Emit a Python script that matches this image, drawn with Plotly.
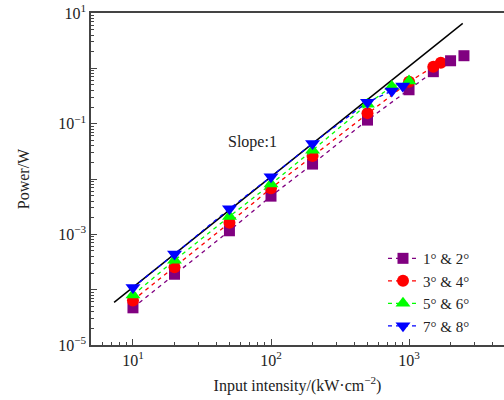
import math
import plotly.graph_objects as go

# ---- data ----
x_1_2 = [10, 20, 50, 100, 200, 500, 1000, 1500, 2000, 2500]
y_1_2 = [4.7e-5, 1.9e-4, 1.16e-3, 4.9e-3, 0.0186, 0.116, 0.41, 0.87, 1.37, 1.69]
n_line_1_2 = 8  # dashed line drawn through the first 8 points

x_3_4 = [10, 20, 50, 100, 200, 500, 1000, 1500, 1700]
y_3_4 = [6.4e-5, 2.55e-4, 1.62e-3, 6.8e-3, 0.026, 0.155, 0.57, 1.07, 1.26]

x_5_6 = [10, 20, 50, 100, 200, 500, 750, 1000]
y_5_6 = [8.0e-5, 3.4e-4, 2.1e-3, 8.1e-3, 0.033, 0.225, 0.47, 0.59]

x_7_8 = [10, 20, 50, 100, 200, 500, 750, 900]
y_7_8 = [1.1e-4, 4.4e-4, 2.9e-3, 0.011, 0.044, 0.245, 0.39, 0.48]

x_slope = [7.3, 2450]
y_slope = [5.9e-5, 6.5]

series_names = ["1° &amp; 2°", "3° &amp; 4°", "5° &amp; 6°", "7° &amp; 8°"]
x_tick_vals = [10, 100, 1000]
x_tick_text = ["10<sup>1</sup>", "10<sup>2</sup>", "10<sup>3</sup>"]
y_tick_vals = [1e-5, 1e-4, 1e-3, 1e-2, 1e-1, 1, 10]
y_tick_text = ["10<sup>−5</sup>", "", "10<sup>−3</sup>", "", "10<sup>−1</sup>", "", "10<sup>1</sup>"]

FONT = "Liberation Serif"
DASH = "4px,4px"

fig = go.Figure()

# slope reference line
fig.add_trace(go.Scatter(x=x_slope, y=y_slope, mode="lines",
                         line=dict(color="black", width=1.5), showlegend=False))

styles = [
    ("#800080", "square", 11),
    ("#ff0000", "circle", 12),
    ("#00ff00", "triangle-up", 13),
    ("#0000ff", "triangle-down", 13),
]
data = [(x_1_2[:n_line_1_2], y_1_2[:n_line_1_2]), (x_3_4, y_3_4), (x_5_6, y_5_6), (x_7_8, y_7_8)]

for (xs, ys), (col, sym, sz), name in zip(data, styles, series_names):
    fig.add_trace(go.Scatter(x=xs, y=ys, mode="lines+markers", name=name,
                             line=dict(color=col, width=1.3, dash=DASH),
                             marker=dict(color=col, symbol=sym, size=sz)))

# extra purple points without connecting line
fig.add_trace(go.Scatter(x=x_1_2[n_line_1_2:], y=y_1_2[n_line_1_2:], mode="markers",
                         marker=dict(color=styles[0][0], symbol="square", size=11),
                         showlegend=False))

# minor tick positions
x_minor = [m * 10 ** d for d in range(0, 4) for m in range(2, 10)]
y_minor = [m * 10 ** d for d in range(-5, 1) for m in range(2, 10)]

fig.add_annotation(x=math.log10(74), y=math.log10(0.047), text="Slope:1", showarrow=False,
                   font=dict(family=FONT, size=16, color="#222"))

fig.update_layout(
    width=504, height=400,
    margin=dict(l=91, r=0, t=13, b=55),
    paper_bgcolor="white", plot_bgcolor="white",
    font=dict(family=FONT, size=15, color="#222"),
    legend=dict(x=0.707, y=0.31, xanchor="left", yanchor="top",
                bgcolor="rgba(0,0,0,0)", font=dict(family=FONT, size=15),
                itemwidth=30, tracegroupgap=0),
    xaxis=dict(type="log", range=[0.696, 3.688], automargin=False,
               tickmode="array", tickvals=x_tick_vals, ticktext=x_tick_text,
               ticks="inside", ticklen=6, tickwidth=1.2, tickcolor="#444",
               showline=True, linecolor="#444", linewidth=1.5, mirror=True,
               showgrid=False, zeroline=False,
               minor=dict(tickvals=x_minor, ticks="inside", ticklen=3, tickcolor="#444", showgrid=False),
               title=dict(text="Input intensity/(kW·cm<sup>−2</sup>)", font=dict(family=FONT, size=16), standoff=12),
               tickfont=dict(family=FONT, size=16)),
    yaxis=dict(type="log", range=[-5, 1], automargin=False,
               tickmode="array", tickvals=y_tick_vals, ticktext=y_tick_text,
               ticks="inside", ticklen=6, tickwidth=1.2, tickcolor="#444",
               showline=True, linecolor="#444", linewidth=1.5,
               showgrid=False, zeroline=False,
               minor=dict(tickvals=y_minor, ticks="inside", ticklen=3, tickcolor="#444", showgrid=False),
               title=dict(text="Power/W", font=dict(family=FONT, size=16), standoff=25),
               tickfont=dict(family=FONT, size=16)),
)

fig.write_html("out.html", config={"displayModeBar": False},
               post_script="document.body.style.margin='0px';")
